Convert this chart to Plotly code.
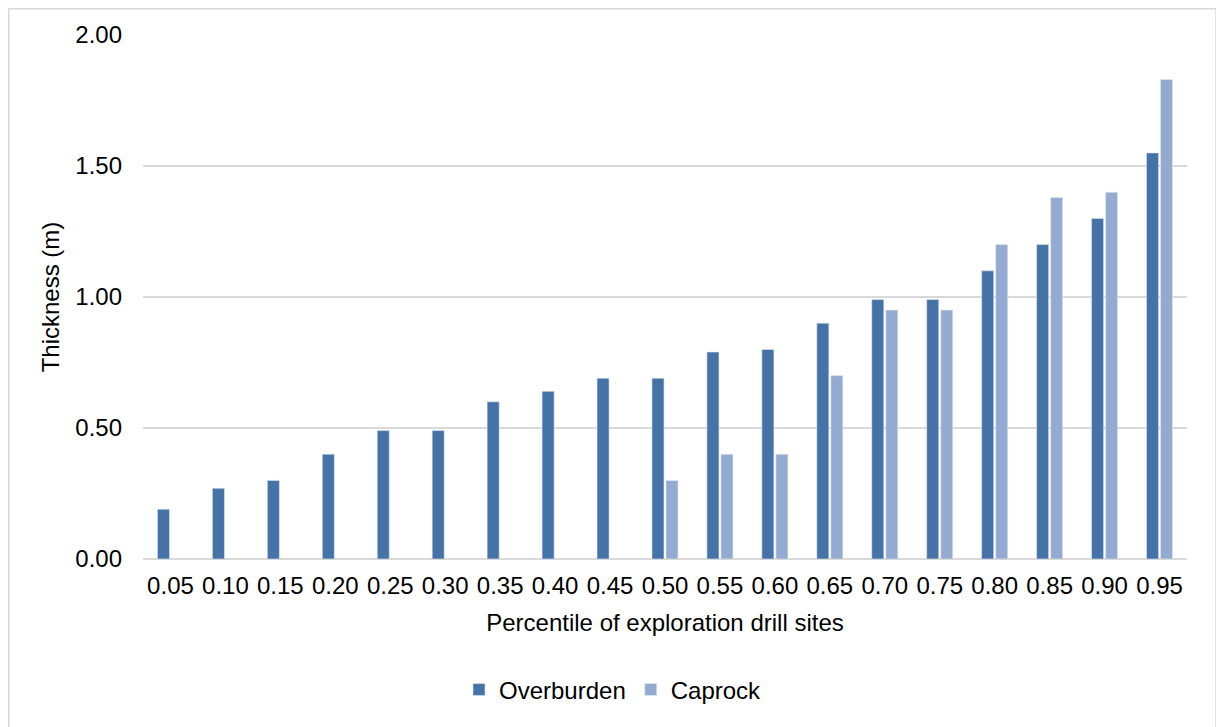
import plotly.graph_objects as go

categories = ["0.05", "0.10", "0.15", "0.20", "0.25", "0.30", "0.35", "0.40", "0.45", "0.50",
              "0.55", "0.60", "0.65", "0.70", "0.75", "0.80", "0.85", "0.90", "0.95"]
overburden = [0.19, 0.27, 0.30, 0.40, 0.49, 0.49, 0.60, 0.64, 0.69, 0.69,
              0.79, 0.80, 0.90, 0.99, 0.99, 1.10, 1.20, 1.30, 1.55]
caprock = [None, None, None, None, None, None, None, None, None, 0.30,
           0.40, 0.40, 0.70, 0.95, 0.95, 1.20, 1.38, 1.40, 1.83]
y_ticks = [0, 0.5, 1.0, 1.5, 2.0]
y_ticklabels = ["0.00", "0.50", "1.00", "1.50", "2.00"]

FONT = "Liberation Sans, Arial, sans-serif"
FS = 24

fig = go.Figure()
fig.add_trace(go.Bar(x=categories, y=overburden, name="Overburden",
                     marker=dict(color="#4673A7", line=dict(color="#dfe6f0", width=0.6))))
fig.add_trace(go.Bar(x=categories, y=caprock, name="Caprock",
                     marker=dict(color="#95AAD1", line=dict(color="#e6ebf4", width=0.6))))

# page offset of the figure inside the html body (default body margin)
OFF = 8
W, H = 1224, 727
L, R, T, B = 135, 45, 27, 176
pw, ph = W - L - R, H - T - B

def px_x(x):
    return (x - OFF - L) / pw

def px_y(y):
    return (H - B - (y - OFF)) / ph

fig.update_layout(
    width=W, height=H,
    margin=dict(l=L, r=R, t=T, b=B, autoexpand=False),
    paper_bgcolor="white", plot_bgcolor="white",
    font=dict(family=FONT, size=FS, color="#000000"),
    barmode="group", bargap=0.49, bargroupgap=0.14,
    showlegend=True,
    legend=dict(orientation="h", x=px_x(613), xanchor="center", y=px_y(690), yanchor="middle",
                font=dict(family=FONT, size=FS, color="#000000"),
                itemwidth=30, traceorder="normal", bgcolor="rgba(0,0,0,0)"),
    xaxis=dict(type="category", showgrid=False, showline=False, zeroline=False,
               ticks="", ticklabelstandoff=10,
               tickfont=dict(family=FONT, size=FS, color="#000000"),
               title=dict(text="Percentile of exploration drill sites", standoff=16,
                          font=dict(family=FONT, size=FS, color="#000000"))),
    yaxis=dict(range=[0, 2.0], tickvals=y_ticks, ticktext=y_ticklabels,
               showgrid=True, gridcolor="#d9d9d9", gridwidth=1.5,
               zeroline=True, zerolinecolor="#d9d9d9", zerolinewidth=1.5,
               showline=False, ticks="", ticklabelstandoff=20,
               tickfont=dict(family=FONT, size=FS, color="#000000"),
               title=dict(text="Thickness (m)", standoff=8,
                          font=dict(family=FONT, size=FS, color="#000000"))),
    shapes=[dict(type="rect", xref="paper", yref="paper",
                 x0=px_x(8.8), x1=px_x(1216), y0=px_y(760), y1=px_y(8.8),
                 line=dict(color="#d9d9d9", width=1.5), fillcolor="rgba(0,0,0,0)", layer="below")],
)

fig.write_html("out.html")
